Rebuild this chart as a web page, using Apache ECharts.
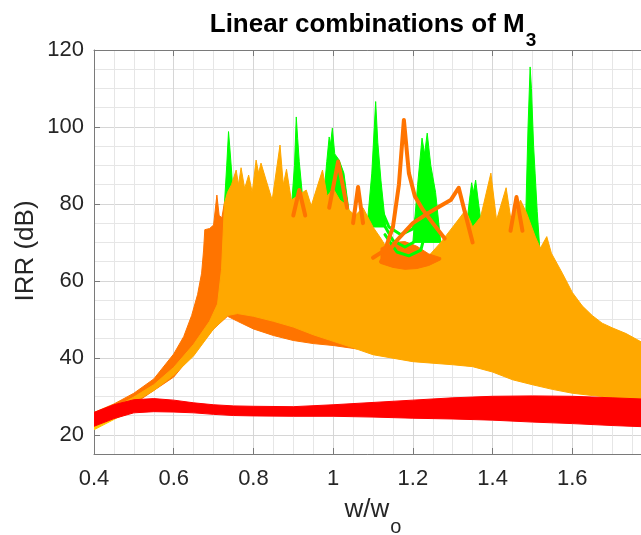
<!DOCTYPE html>
<html><head><meta charset="utf-8">
<script src="https://cdn.jsdelivr.net/npm/echarts@6/dist/echarts.min.js"></script>
<style>html,body{margin:0;padding:0;background:#fff}#c{width:641px;height:535px}</style>
</head><body><div id="c"></div><script>
const FONT = "'Liberation Sans', Arial, Helvetica, sans-serif";
const xTicks = [0.4, 0.6, 0.8, 1.0, 1.2, 1.4, 1.6, 1.8];
const yTicks = [20, 40, 60, 80, 100, 120];

// red band (lower cluster of curves)
const redX = [0.4,0.45,0.5,0.55,0.6,0.65,0.7,0.75,0.8,0.9,1.0,1.1,1.2,1.3,1.4,1.5,1.6,1.7,1.8];
const redUpper = [25.8,27.8,29.1,29.4,29,28.3,27.8,27.5,27.4,27.3,27.8,28.4,29,29.6,30,30.1,30,29.6,29.2];
const redLower = [22.2,24.2,25.7,26,25.9,25.7,25.3,25,24.9,24.8,24.8,24.6,24.3,24.1,23.8,23.3,22.9,22.4,22];

// yellow sliver at the left end
const yellowX = [0.4,0.43,0.46,0.5];
const yellowUpper = [23.5,25,26.5,28];
const yellowLower = [21.3,22.9,24.5,26];

// dark orange cluster envelope
const darkUpX = [0.4,0.45,0.5,0.55,0.6,0.625,0.645,0.66,0.67,0.675,0.678,0.69,0.7,0.7083,0.714,0.7208,0.7275,0.74,0.8,0.9,1.0,1.06];
const darkUpY = [25.8,28,30.8,34.5,41,45.5,51,56.5,62,68,73.3,73.6,74.5,82.3,77,76.4,80.5,76,72,70,68,60];
const darkLoX = [0.4,0.5,0.6,0.7,0.735,0.76,0.8,0.85,0.9,0.95,1.0,1.06];
const darkLoY = [22.5,28,35,47.5,50.8,49.5,47.5,45.8,44.5,43.7,43.2,42.3];

// light orange cluster envelope
const lightUpX = [0.4,0.45,0.5,0.55,0.6,0.65,0.69,0.71,0.72,0.7275,0.735,0.745,0.7567,0.7625,0.769,0.778,0.788,0.797,0.8067,0.813,0.819,0.8317,0.847,0.8667,0.875,0.883,0.895,0.91,0.9325,0.945,0.9733,0.985,1.0,1.0167,1.03,1.04,1.055,1.075,1.09,1.1,1.12,1.15,1.18,1.21,1.24,1.27,1.3,1.3325,1.35,1.37,1.3958,1.41,1.434,1.4475,1.47,1.485,1.5075,1.52,1.536,1.5475,1.575,1.6,1.625,1.65,1.675,1.7,1.735,1.77,1.8];
const lightUpY = [24.5,27,29.8,33,37.5,43.5,49.5,54,63,80.3,83,85,88.8,85,89.4,84,87.5,83,91.4,88,90.6,86.2,81,95.3,85,89,81,82,83.6,79.5,88.8,82,84,81,80,78.4,77,79,76,74,71,66,64.5,64.5,66.5,70,74,78.4,74,76.6,88,75.8,84.2,75,81,77.7,71.4,68.5,71.5,67.2,62,57,53.5,51,49,47.8,46.3,44.3,42.5];
const lightLoX = [0.4,0.45,0.5,0.55,0.6,0.65,0.7,0.735,0.76,0.8,0.85,0.9,0.95,1.0,1.05,1.1,1.2,1.3,1.35,1.4,1.45,1.5,1.55,1.6,1.65,1.7,1.75,1.8];
const lightLoY = [22.5,26,28.5,31.5,35.5,40.5,47.5,51,51.5,50.8,49.5,48,46,44.3,42.6,40.8,39,38.2,37.7,36.3,34.3,33,31.8,30.8,30.2,29.7,29.1,28.5];

// dark orange patch in the dip
const patchX = [1.12,1.15,1.18,1.21,1.24,1.27];
const patchUpper = [68.5,70,70.2,69,67,66];
const patchLower = [64.5,63.5,63,63.2,64,65.5];

// green resonance spikes
const greenSpikeX = [
  [0.725,0.733,0.7375,0.7405,0.745,0.752],
  [0.896,0.903,0.9075,0.911,0.915,0.925],
  [0.975,0.984,0.99,0.9935,0.998,1.004,1.015,1.027,1.04],
  [1.085,1.097,1.1067,1.112,1.12,1.132],
  [1.2,1.212,1.223,1.2295,1.236,1.245,1.257,1.27],
  [1.33,1.342,1.3475,1.352,1.3575,1.365,1.378],
  [1.481,1.489,1.4942,1.4975,1.503,1.5067,1.512,1.52]
];
const greenSpikeY = [
  [76,90,98.8,95,88.8,78],
  [80,90,102.6,97,91,80],
  [80,91,97.4,95.5,99.7,93,91.4,88,78],
  [74,88,106.6,96,86,74],
  [70,85,97.1,93,98.4,90,83,70],
  [70,81,85.5,83,86.2,80,70],
  [68,100,115.6,110,95,88,78,66]
];
// green curves in the dip
const greenLoopX = [
  [1.115,1.14,1.17,1.2,1.225],
  [1.12,1.15,1.18,1.21,1.232],
  [1.13,1.16,1.19,1.22,1.24]
];
const greenLoopY = [
  [80,74,72,73.5,82],
  [76,70.5,68.8,70.5,79],
  [72,67.5,66.5,68,76]
];
// dark orange individual curves
const darkLineX = [
  [1.10,1.13,1.15,1.165,1.1775,1.19,1.205,1.225,1.25,1.28],
  [1.12,1.16,1.2,1.24,1.27,1.295,1.315,1.33,1.35],
  [0.9,0.915,0.93],
  [0.99,1.0125,1.035],
  [1.05,1.0625,1.075],
  [1.445,1.46,1.475]
];
const darkLineY = [
  [66,68,74,85,101.8,88,82,78.5,75,71],
  [65,70.5,75,77.7,79.5,81,84.2,78,70],
  [77,83.6,77],
  [79,91,79],
  [75,84.4,75],
  [73,81.8,73]
];

const C_GREEN = '#00FF00', C_LIGHT = '#FFA800', C_DARK = '#FF7400', C_RED = '#FF0000', C_YEL = '#FFC800';
const GRID_MAJOR = '#d6d6d6', GRID_MINOR = '#e6e6e6', AXIS = '#7a7a7a', TXT = '#262626';

function polySeries(upX, upY, loX, loY, color) {
  return {
    type: 'custom', coordinateSystem: 'cartesian2d', clip: true, silent: true,
    data: [[upX[0], upY[0]]],
    renderItem: function (params, api) {
      const pts = [];
      for (let i = 0; i < upX.length; i++) pts.push(api.coord([upX[i], upY[i]]));
      for (let i = loX.length - 1; i >= 0; i--) pts.push(api.coord([loX[i], loY[i]]));
      return { type: 'polygon', shape: { points: pts }, style: { fill: color, stroke: color, lineWidth: 1 } };
    }
  };
}
function lineSeries(X, Y, color, width) {
  return {
    type: 'line', silent: true, showSymbol: false, symbol: 'none', clip: true,
    data: X.map((x, i) => [x, Y[i]]),
    lineStyle: { color: color, width: width, join: 'round', cap: 'round' }, itemStyle: { color: color }
  };
}

const series = [];
greenSpikeX.forEach((X, i) => series.push(polySeries(X, greenSpikeY[i], [], [], C_GREEN)));
series.push(polySeries(darkUpX, darkUpY, darkLoX, darkLoY, C_DARK));
series.push(polySeries(lightUpX, lightUpY, lightLoX, lightLoY, C_LIGHT));
series.push(polySeries(patchX, patchUpper, patchX, patchLower, C_DARK));
greenLoopX.forEach((X, i) => series.push(lineSeries(X, greenLoopY[i], C_GREEN, 3)));
darkLineX.forEach((X, i) => series.push(lineSeries(X, darkLineY[i], C_DARK, 4)));
series.push(polySeries(yellowX, yellowUpper, yellowX, yellowLower, C_YEL));
series.push(polySeries(redX, redUpper, redX, redLower, C_RED));

const fmtX = v => String(Math.round(v * 10) / 10);
const hiddenAxisParts = { axisLine: { show: false }, axisTick: { show: false }, axisLabel: { show: false } };

const chart = echarts.init(document.getElementById('c'), null, { renderer: 'canvas' });
chart.setOption({
  animation: false,
  backgroundColor: '#ffffff',
  textStyle: { fontFamily: FONT },
  grid: { left: 94, top: 50, right: -11, bottom: 81, containLabel: false, outerBoundsMode: 'none' },
  xAxis: [{
    type: 'value', position: 'bottom', min: 0.4, max: 1.8, interval: 0.2,
    axisLine: { show: true, onZero: false, lineStyle: { color: AXIS, width: 1 } },
    axisTick: { show: true, inside: true, length: 6, lineStyle: { color: AXIS } },
    axisLabel: { formatter: fmtX, fontSize: 22, color: TXT, margin: 14, fontFamily: FONT, showMaxLabel: false },
    splitLine: { show: true, lineStyle: { color: GRID_MAJOR, width: 1 } }
  }, {
    type: 'value', position: 'top', min: 0.4, max: 1.8, interval: 0.2,
    axisLine: { show: true, onZero: false, lineStyle: { color: AXIS, width: 1 } },
    axisTick: { show: true, inside: true, length: 6, lineStyle: { color: AXIS } },
    axisLabel: { show: false }, splitLine: { show: false }
  }, Object.assign({
    type: 'value', position: 'bottom', min: 0.4, max: 1.8, interval: 0.05,
    splitLine: { show: true, lineStyle: { color: GRID_MINOR, width: 1 } }, z: -1
  }, hiddenAxisParts)],
  yAxis: [{
    type: 'value', position: 'left', min: 15, max: 120, interval: 5,
    axisLine: { show: true, onZero: false, lineStyle: { color: AXIS, width: 1 } },
    axisTick: { show: true, inside: true, length: 6, customValues: yTicks, lineStyle: { color: AXIS } },
    axisLabel: { customValues: yTicks, fontSize: 22, color: TXT, margin: 10, fontFamily: FONT },
    splitLine: { show: false }
  }, Object.assign({
    type: 'value', position: 'left', min: 15, max: 120, interval: 5,
    splitLine: { show: true, lineStyle: { color: [GRID_MINOR, GRID_MAJOR, GRID_MINOR, GRID_MINOR], width: 1 } }, z: -1
  }, hiddenAxisParts)],
  graphic: [
    { type: 'text', x: 373, y: 12, silent: true, style: {
      text: '{m|Linear combinations of M}{s|3}', align: 'center', verticalAlign: 'top',
      rich: {
        m: { fontSize: 26, fontWeight: 'bold', lineHeight: 30, verticalAlign: 'top', fill: '#000', fontFamily: FONT },
        s: { fontSize: 19, fontWeight: 'bold', lineHeight: 19, padding: [19, 0, 0, 1], verticalAlign: 'top', fill: '#000', fontFamily: FONT }
      } } },
    { type: 'text', x: 373, y: 497, silent: true, style: {
      text: '{m|w/w}{s|o}', align: 'center', verticalAlign: 'top',
      rich: {
        m: { fontSize: 26, lineHeight: 30, verticalAlign: 'top', fill: TXT, fontFamily: FONT },
        s: { fontSize: 20, lineHeight: 20, padding: [20, 0, 0, 1], verticalAlign: 'top', fill: TXT, fontFamily: FONT }
      } } },
    { type: 'text', x: 26, y: 251, rotation: Math.PI / 2, silent: true, style: {
      text: 'IRR (dB)', fontSize: 26, fill: TXT, align: 'center', verticalAlign: 'middle', fontFamily: FONT } }
  ],
  series: series
});
</script></body></html>
